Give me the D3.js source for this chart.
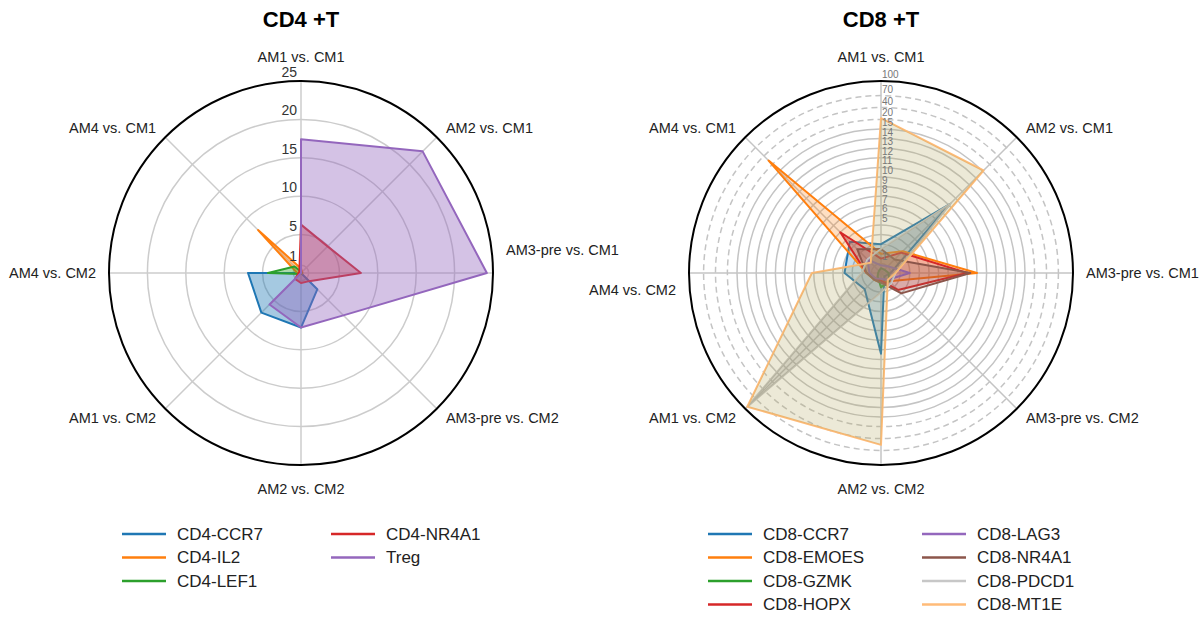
<!DOCTYPE html>
<html>
<head>
<meta charset="utf-8">
<script src="https://cdn.jsdelivr.net/npm/d3@7"></script>
<style>
  body { margin: 0; background: #fff; }
  svg { font-family: "Liberation Sans", Arial, sans-serif; }
</style>
</head>
<body>
<svg id="chart" width="1204" height="620"></svg>
<script>
/// Data ///
var axisLabels = ["AM1 vs. CM1", "AM2 vs. CM1", "AM3-pre vs. CM1", "AM3-pre vs. CM2",
                  "AM2 vs. CM2", "AM1 vs. CM2", "AM4 vs. CM2", "AM4 vs. CM1"];

// CD4 +T
var cd4Names  = ["CD4-CCR7", "CD4-IL2", "CD4-LEF1", "CD4-NR4A1", "Treg"];
var cd4Colors = ["#1f77b4", "#ff7f0e", "#2ca02c", "#d62728", "#9467bd"];
var cd4CCR7   = [0.0, 0.0, 0.0, 3.0, 7.1, 7.3, 6.9, 0.0];
var cd4IL2    = [0.6, 0.2, 0.2, 0.1, 0.1, 0.1, 0.5, 7.9];
var cd4LEF1   = [0.2, 0.1, 0.1, 0.1, 0.1, 0.2, 4.3, 1.2];
var cd4NR4A1  = [6.3, 4.9, 7.8, 1.5, 1.3, 1.1, 0.3, 0.3];
var cd4Treg   = [17.4, 22.4, 24.2, 7.8, 7.1, 5.8, 0.0, 0.0];
var cd4Ticks  = [1, 5, 10, 15, 20, 25];

// CD8 +T
var cd8Names  = ["CD8-CCR7", "CD8-EMOES", "CD8-GZMK", "CD8-HOPX",
                 "CD8-LAG3", "CD8-NR4A1", "CD8-PDCD1", "CD8-MT1E"];
var cd8Colors = ["#1f77b4", "#ff7f0e", "#2ca02c", "#d62728",
                 "#9467bd", "#8c564b", "#c7c7c7", "#ffbb78"];
var cd8Fills  = ["#1f77b4", "#ff7f0e", "#2ca02c", "#d62728",
                 "#9467bd", "#8c564b", "#7f7f7f", "#b4a860"];
var cd8CCR7   = [3.0, 10.2, 1.0, 0.5, 8.4, 2.4, 3.8, 4.6];
var cd8EMOES  = [2.0, 3.2, 10.0, 1.2, 1.0, 1.0, 1.5, 29];
var cd8GZMK   = [0.5, 0.5, 0.8, 1.2, 1.5, 0.5, 0.3, 0.3];
var cd8HOPX   = [1.5, 3.0, 9.0, 2.5, 0.8, 0.8, 1.5, 6.0];
var cd8LAG3   = [0.8, 1.0, 3.0, 1.0, 0.6, 0.8, 1.2, 2.0];
var cd8NR4A1  = [2.5, 2.0, 9.3, 3.0, 1.0, 1.0, 1.5, 3.5];
var cd8PDCD1  = [2.5, 10.2, 1.5, 1.5, 2.0, 94, 2.0, 2.0];
var cd8MT1E   = [22, 15.5, 1.5, 1.0, 56, 94, 7.2, 1.5];
var cd8Ticks  = [1, 5, 6, 7, 8, 9, 10, 11, 12, 13, 14, 15, 20, 40, 70, 100];
var cd8Solid  = [1, 2, 3, 4, 5, 6, 7, 8, 9, 10, 11, 12, 13, 14, 15];
var cd8Dashed = [20, 40, 70];

/// Settings ///
var svg = d3.select("#chart");
var R = 192;
var step = 2 * Math.PI / axisLabels.length;

var rCD4 = d3.scaleLinear().domain([0, 25]).range([0, R]);
// CD8 radial axis: linear up to 15, compressed beyond
var rCD8 = d3.scaleLinear()
    .domain([0, 15, 20, 40, 70, 100])
    .range([0, 0.75 * R, 0.8 * R, 0.862 * R, 0.924 * R, R]);

function drawRadar(cfg) {
  var g = svg.append("g").attr("transform", "translate(" + cfg.cx + "," + cfg.cy + ")");

  // grid rings
  g.append("g").selectAll("circle")
    .data(cfg.solid).enter().append("circle")
      .attr("r", function(d) { return cfg.r(d); })
      .attr("fill", "none")
      .attr("stroke", cfg.gridColor)
      .attr("stroke-width", 1.5);
  g.append("g").selectAll("circle")
    .data(cfg.dashed).enter().append("circle")
      .attr("r", function(d) { return cfg.r(d); })
      .attr("fill", "none")
      .attr("stroke", cfg.gridColor)
      .attr("stroke-width", 1.5)
      .attr("stroke-dasharray", "6,4");

  // spokes
  g.append("g").selectAll("line")
    .data(axisLabels).enter().append("line")
      .attr("x1", 0).attr("y1", 0)
      .attr("x2", function(d, i) { return R * Math.sin(i * step); })
      .attr("y2", function(d, i) { return -R * Math.cos(i * step); })
      .attr("stroke", cfg.gridColor)
      .attr("stroke-width", 1.5);

  // series: line, then fill
  var radial = d3.lineRadial()
      .angle(function(d, i) { return i * step; })
      .radius(function(d) { return cfg.r(d); })
      .curve(d3.curveLinearClosed);

  cfg.series.forEach(function(vals, k) {
    g.append("path")
      .attr("d", radial(vals))
      .attr("fill", "none")
      .attr("stroke", cfg.colors[k])
      .attr("stroke-width", 2)
      .attr("stroke-linejoin", "round");
    g.append("path")
      .attr("d", radial(vals))
      .attr("fill", cfg.fills[k])
      .attr("fill-opacity", cfg.alpha)
      .attr("stroke", "none");
  });

  // outer circle
  g.append("circle")
    .attr("r", R)
    .attr("fill", "none")
    .attr("stroke", "#000")
    .attr("stroke-width", 2);

  // radial tick labels
  g.append("g").selectAll("text")
    .data(cfg.ticks).enter().append("text")
      .attr("x", cfg.tickX)
      .attr("y", function(d) { return -cfg.r(d) - cfg.tickPad; })
      .attr("text-anchor", cfg.tickAnchor)
      .attr("dominant-baseline", "central")
      .attr("font-size", cfg.tickSize)
      .attr("fill", cfg.tickColor)
      .text(function(d) { return d; });

  // angular labels
  var L = 205;
  g.append("g").selectAll("text")
    .data(axisLabels).enter().append("text")
      .attr("x", function(d, i) { return L * Math.sin(i * step); })
      .attr("y", function(d, i) {
        var c = Math.cos(i * step);
        return -L * c - (Math.abs(c) > 0.9 ? 11 * c : 0) + (cfg.labelShift[i] || 0);
      })
      .attr("text-anchor", function(d, i) {
        var s = Math.sin(i * step);
        return s > 0.1 ? "start" : (s < -0.1 ? "end" : "middle");
      })
      .attr("dominant-baseline", "central")
      .attr("font-size", "14.5px")
      .attr("fill", "#222")
      .text(function(d) { return d; });

  // title
  svg.append("text")
    .attr("x", cfg.cx)
    .attr("y", 19)
    .attr("text-anchor", "middle")
    .attr("dominant-baseline", "central")
    .attr("font-size", "22px")
    .attr("font-weight", "bold")
    .text(cfg.title);

  // legend
  var rows = Math.ceil(cfg.names.length / 2);
  var leg = svg.append("g").selectAll("g")
    .data(cfg.names).enter().append("g")
      .attr("transform", function(d, i) {
        var col = Math.floor(i / rows), row = i % rows;
        return "translate(" + cfg.legendX[col] + "," + (534 + row * 23.5) + ")";
      });
  leg.append("line")
    .attr("x1", 0).attr("x2", 44)
    .attr("stroke", function(d, i) { return cfg.colors[i]; })
    .attr("stroke-width", 2.5);
  leg.append("text")
    .attr("x", 55)
    .attr("dominant-baseline", "central")
    .attr("font-size", "17px")
    .attr("fill", "#222")
    .text(function(d) { return d; });
}

drawRadar({
  cx: 301, cy: 273, r: rCD4,
  solid: cd4Ticks.slice(0, -1), dashed: [],
  series: [cd4CCR7, cd4IL2, cd4LEF1, cd4NR4A1, cd4Treg],
  colors: cd4Colors, fills: cd4Colors, alpha: 0.4, gridColor: "#cccccc",
  names: cd4Names,
  ticks: cd4Ticks, tickX: -4, tickAnchor: "end", tickPad: 9,
  tickSize: "14px", tickColor: "#333",
  labelShift: [0, 0, -23, 0, 0, 0, 0, 0],
  title: "CD4 +T", legendX: [122, 331]
});

drawRadar({
  cx: 881, cy: 273, r: rCD8,
  solid: cd8Solid, dashed: cd8Dashed,
  series: [cd8CCR7, cd8EMOES, cd8GZMK, cd8HOPX, cd8LAG3, cd8NR4A1, cd8PDCD1, cd8MT1E],
  colors: cd8Colors, fills: cd8Fills, alpha: 0.25, gridColor: "#c4c4c4",
  names: cd8Names,
  ticks: cd8Ticks, tickX: 1, tickAnchor: "start", tickPad: 6.5,
  tickSize: "10px", tickColor: "#777",
  labelShift: [0, 0, 0, 0, 0, 0, 17, 0],
  title: "CD8 +T", legendX: [708, 922]
});
</script>
</body>
</html>
